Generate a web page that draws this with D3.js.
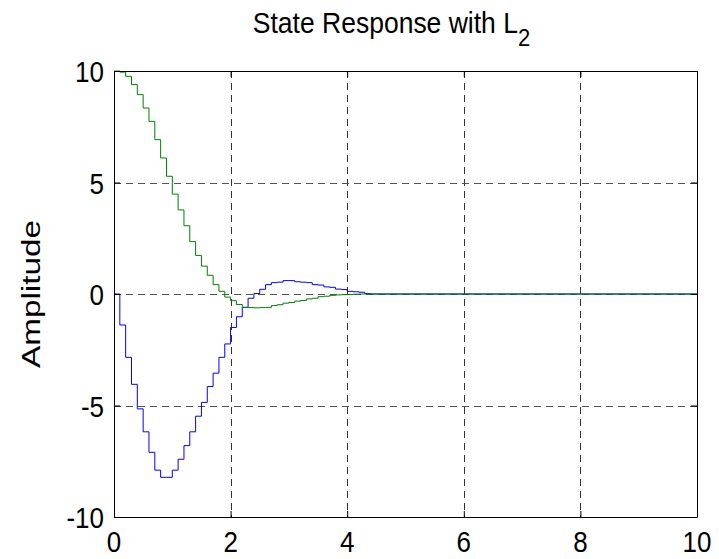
<!DOCTYPE html>
<html>
<head>
<meta charset="utf-8">
<script src="https://cdn.jsdelivr.net/npm/d3@7/dist/d3.min.js"></script>
<style>
body { margin: 0; background: #fff; }
text { font-family: "Liberation Sans", Arial, sans-serif; fill: #000; }
</style>
</head>
<body>
<div id="chart"></div>
<script>
// sample times (Ts = 0.1), last point holds the value out to t = 10
var time = [0, 0.1, 0.2, 0.3, 0.4, 0.5, 0.6, 0.7, 0.8, 0.9,
            1.0, 1.1, 1.2, 1.3, 1.4, 1.5, 1.6, 1.7, 1.8, 1.9,
            2.0, 2.1, 2.2, 2.3, 2.4, 2.5, 2.6, 2.7, 2.8, 2.9,
            3.0, 3.1, 3.2, 3.3, 3.4, 3.5, 3.6, 3.7, 3.8, 3.9,
            4.0, 4.1, 4.2, 4.3, 4.4, 10];

// state x1 (blue)
var state1 = [0, -1.39, -2.84, -4.05, -5.15, -6.18, -7.10, -7.90, -8.22, -8.22,
              -7.90, -7.41, -6.80, -6.18, -5.48, -4.86, -4.15, -3.55, -2.84, -2.24,
              -1.50, -1.02, -0.60, -0.19, 0.02, 0.21, 0.42, 0.51, 0.53, 0.60,
              0.60, 0.55, 0.53, 0.51, 0.42, 0.40, 0.32, 0.30, 0.22, 0.20,
              0.12, 0.10, 0.08, 0.02, 0, 0];

// state x2 (green)
var state2 = [10.0, 9.95, 9.76, 9.39, 8.94, 8.34, 7.74, 6.92, 6.10, 5.28,
              4.48, 3.77, 3.06, 2.35, 1.73, 1.25, 0.84, 0.42, 0.12, -0.14,
              -0.30, -0.47, -0.60, -0.61, -0.62, -0.61, -0.60, -0.52, -0.48, -0.41,
              -0.38, -0.32, -0.29, -0.22, -0.19, -0.12, -0.10, -0.06, -0.04, -0.03,
              -0.02, -0.01, 0, 0, 0, 0];

var xTicks = [0, 2, 4, 6, 8, 10];
var yTicks = [-10, -5, 0, 5, 10];

var W = 719, H = 559;
var margin = {top: 71, right: 22, bottom: 42, left: 114},
    width = W - margin.left - margin.right,
    height = H - margin.top - margin.bottom;

var svg = d3.select("#chart").append("svg")
    .attr("width", W)
    .attr("height", H);

var x = d3.scaleLinear().domain([0, 10]).range([0, width]),
    y = d3.scaleLinear().domain([-10, 10]).range([height, 0]);

var g = svg.append("g")
    .attr("transform", "translate(" + margin.left + "," + margin.top + ")");

// grid
g.append("g").attr("class", "grid")
  .selectAll("line.gx").data(xTicks.slice(1, -1)).enter().append("line")
    .attr("x1", function(d) { return Math.round(x(d)) + 0.5; })
    .attr("x2", function(d) { return Math.round(x(d)) + 0.5; })
    .attr("y1", 0).attr("y2", height)
    .attr("stroke", "#333").attr("stroke-dasharray", "7,5");

g.select(".grid")
  .selectAll("line.gy").data(yTicks.slice(1, -1)).enter().append("line")
    .attr("y1", function(d) { return Math.round(y(d)) + 0.5; })
    .attr("y2", function(d) { return Math.round(y(d)) + 0.5; })
    .attr("x1", 0).attr("x2", width)
    .attr("stroke", "#555").attr("stroke-dasharray", "7,5");

// stairs
var line = d3.line()
    .curve(d3.curveStepAfter)
    .x(function(d) { return x(d[0]); })
    .y(function(d) { return y(d[1]); });

g.append("path")
    .datum(d3.zip(time, state1))
    .attr("fill", "none")
    .attr("stroke", "#0000ff")
    .attr("stroke-width", 1)
    .attr("d", line);

g.append("path")
    .datum(d3.zip(time, state2))
    .attr("fill", "none")
    .attr("stroke", "#008000")
    .attr("stroke-width", 1)
    .attr("d", line);

// axes box with inward ticks
var xAxis = d3.axisBottom(x).tickValues(xTicks).tickSizeInner(-6).tickSizeOuter(0).tickFormat(""),
    xAxisTop = d3.axisTop(x).tickValues(xTicks).tickSizeInner(-6).tickSizeOuter(0).tickFormat(""),
    yAxis = d3.axisLeft(y).tickValues(yTicks).tickSizeInner(-6).tickSizeOuter(0).tickFormat(""),
    yAxisRight = d3.axisRight(y).tickValues(yTicks).tickSizeInner(-6).tickSizeOuter(0).tickFormat("");

g.append("g").attr("transform", "translate(0," + height + ")").call(xAxis);
g.append("g").call(xAxisTop);
g.append("g").call(yAxis);
g.append("g").attr("transform", "translate(" + width + ",0)").call(yAxisRight);
g.selectAll(".domain, .tick line").attr("stroke", "#000");

// tick labels (text is slightly stretched vertically as in the source)
var sy = 1.15;
g.selectAll("text.xl").data(xTicks).enter().append("text")
    .attr("class", "xl")
    .attr("text-anchor", "middle")
    .attr("font-size", 26)
    .attr("transform", function(d) { return "translate(" + x(d) + "," + (height + 35) + ") scale(1," + sy + ")"; })
    .text(function(d) { return d; });

g.selectAll("text.yl").data(yTicks).enter().append("text")
    .attr("class", "yl")
    .attr("text-anchor", "end")
    .attr("font-size", 26)
    .attr("transform", function(d) { return "translate(-10," + (y(d) + 11) + ") scale(1," + sy + ")"; })
    .text(function(d) { return d; });

// y label
svg.append("text")
    .attr("text-anchor", "middle")
    .attr("font-size", 26)
    .attr("transform", "translate(40," + (margin.top + height / 2) + ") scale(1,1.28) rotate(-90)")
    .text("Amplitude");

// title
var title = svg.append("text")
    .attr("text-anchor", "middle")
    .attr("font-size", 26.5)
    .attr("transform", "translate(" + (margin.left + width / 2 - 14) + ",33) scale(1,1.08)");
title.append("tspan").text("State Response with L");
title.append("tspan").attr("font-size", 22).attr("dy", 12).text("2");
</script>
</body>
</html>
